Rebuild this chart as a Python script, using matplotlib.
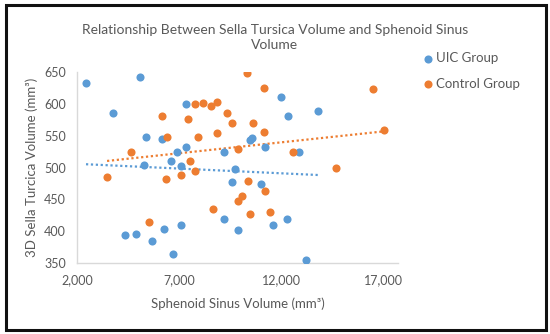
import numpy as np
import matplotlib
matplotlib.use("Agg")
import matplotlib.pyplot as plt
from matplotlib.patches import Rectangle

plt.rcParams['font.family'] = ['Lato', 'DejaVu Sans']

uic_x = [2440, 5090, 3780, 7310, 5380, 6180, 6890, 7340, 6590, 5300, 7100, 9170,
         9730, 9600, 11980, 12340, 13780, 10560, 10440, 11180, 12880, 11000, 9170,
         9890, 4350, 4890, 5660, 6260, 7080, 6720, 11570, 12290, 13210]
uic_y = [633, 643, 586, 600, 548, 545, 525, 532, 511, 504, 503, 524,
         498, 478, 611, 581, 590, 547, 544, 532, 524, 474, 419,
         402, 394, 395, 384, 403, 410, 364, 410, 420, 354]

ctrl_x = [6180, 7440, 7780, 8160, 8570, 8830, 9350, 9560, 8850, 6400, 7900, 4630,
          9870, 7550, 7770, 3470, 6330, 7100, 10300, 11150, 16460, 10590, 11150,
          17010, 12550, 14660, 10380, 11210, 10090, 9890, 8650, 5540, 10480, 11420]
ctrl_y = [582, 577, 600, 602, 597, 604, 586, 570, 555, 549, 548, 524,
          530, 511, 495, 485, 483, 488, 649, 626, 624, 571, 556,
          559, 524, 500, 479, 463, 456, 448, 435, 415, 427, 431]

series_names = ["UIC Group", "Control Group"]
x_ticks = [2000, 7000, 12000, 17000]
y_ticks = [350, 400, 450, 500, 550, 600, 650]

colors = ["#5B9BD5", "#ED7D31"]
gray = "#595959"

fig = plt.figure(figsize=(5.5, 3.34), dpi=100)
ax = fig.add_axes([0.14, 0.2126, 0.5836, 0.5704])

for xs, ys, name, c in zip([uic_x, ctrl_x], [uic_y, ctrl_y], series_names, colors):
    xs = np.array(xs, float)
    ys = np.array(ys, float)
    ax.scatter(xs, ys, s=34, color=c, label=name, zorder=3, linewidths=0)
    m, b = np.polyfit(xs, ys, 1)
    xx = np.array([xs.min(), xs.max()])
    ax.plot(xx, m * xx + b, color=c, linestyle=(0, (1, 1.2)), linewidth=1.6, zorder=2)

ax.set_xlim(2000, 17700)
ax.set_ylim(350, 650)
ax.set_xticks(x_ticks)
ax.set_yticks(y_ticks)
ax.set_xticklabels([f"{v:,}" for v in x_ticks])
ax.tick_params(axis='both', length=0, labelsize=9, labelcolor=gray)
ax.tick_params(axis='x', pad=8)
ax.tick_params(axis='y', pad=8)
for s in ['top', 'right']:
    ax.spines[s].set_visible(False)
for s in ['left', 'bottom']:
    ax.spines[s].set_color('#d9d9d9')
    ax.spines[s].set_linewidth(1.0)

ax.set_xlabel("Sphenoid Sinus Volume (mm³)", fontsize=9.5, color=gray, labelpad=8)
ax.set_ylabel("3D Sella Turcica Volume (mm³)", fontsize=9.5, color=gray, labelpad=4)

fig.text(0.5, 0.928, "Relationship Between Sella Tursica Volume and Sphenoid Sinus\nVolume",
         ha='center', va='top', fontsize=10, color=gray, linespacing=1.3)

leg = fig.legend(loc='upper left', bbox_to_anchor=(0.757, 0.86), frameon=False,
                 fontsize=9.5, handletextpad=0.1, labelspacing=1.05, markerscale=1.0,
                 borderaxespad=0, handlelength=1.0)
for t in leg.get_texts():
    t.set_color(gray)

fig.patches.append(Rectangle((0.01, 0.013), 0.983, 0.972, transform=fig.transFigure,
                             fill=False, edgecolor='#111111', linewidth=2.2))

fig.savefig("out.png", dpi=100)
